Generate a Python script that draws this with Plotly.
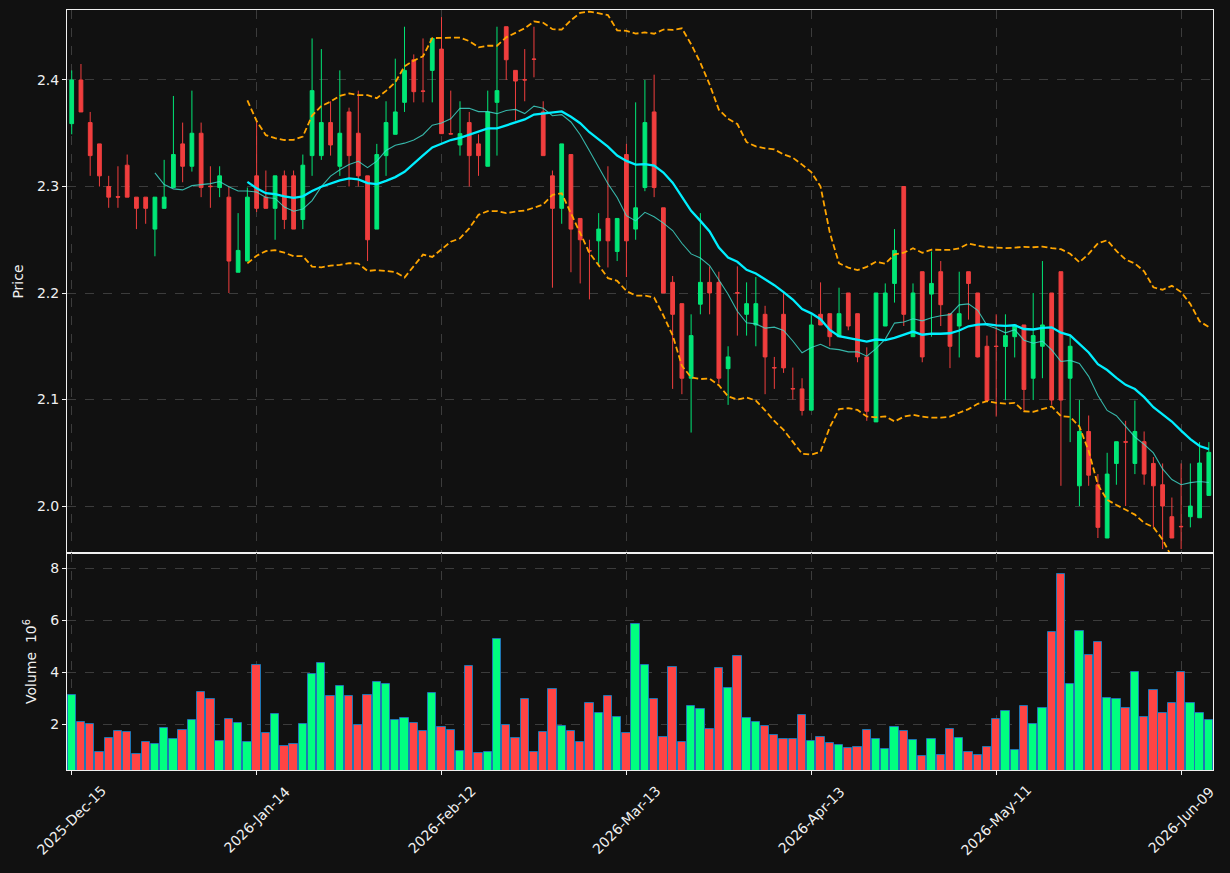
import pandas as pd
import plotly.graph_objects as go
from plotly.subplots import make_subplots

# ---------------- data ----------------
holidays = ["2025-12-25", "2026-01-01", "2026-01-19", "2026-02-16", "2026-04-03", "2026-05-25"]
dates = pd.bdate_range("2025-12-15", periods=124, freq="C", holidays=holidays)

open_ = [
    2.359, 2.400, 2.360, 2.340, 2.300, 2.2905, 2.320, 2.290, 2.290, 2.260,
    2.2795, 2.299, 2.340, 2.319, 2.350, 2.3003, 2.299, 2.290, 2.2195, 2.230,
    2.310, 2.290, 2.2795, 2.310, 2.310, 2.269, 2.329, 2.329, 2.360, 2.319,
    2.370, 2.350, 2.310, 2.260, 2.329, 2.349, 2.379, 2.419, 2.3897, 2.409,
    2.429, 2.3496, 2.339, 2.360, 2.340, 2.319, 2.379, 2.450, 2.409, 2.4003,
    2.4197, 2.370, 2.310, 2.2795, 2.330, 2.270, 2.2398, 2.249, 2.270, 2.239,
    2.330, 2.260, 2.299, 2.370, 2.280, 2.210, 2.190, 2.120, 2.1895, 2.210,
    2.210, 2.129, 2.2003, 2.180, 2.170, 2.180, 2.1300, 2.180, 2.1103, 2.110,
    2.090, 2.180, 2.1806, 2.159, 2.200, 2.1806, 2.140, 2.079, 2.169, 2.209,
    2.300, 2.159, 2.220, 2.199, 2.220, 2.1806, 2.169, 2.220, 2.200, 2.150,
    2.1501, 2.1498, 2.159, 2.170, 2.120, 2.150, 2.200, 2.220, 2.120, 2.019,
    2.070, 2.020, 1.970, 2.040, 2.0604, 2.040, 2.0604, 2.040, 2.020, 1.990,
    1.9809, 1.990, 1.989, 2.010,
]
high = [
    2.409, 2.415, 2.370, 2.340, 2.310, 2.319, 2.330, 2.290, 2.290, 2.290,
    2.325, 2.385, 2.360, 2.390, 2.360, 2.319, 2.319, 2.300, 2.275, 2.299,
    2.362, 2.315, 2.310, 2.315, 2.315, 2.330, 2.439, 2.429, 2.380, 2.409,
    2.374, 2.390, 2.310, 2.340, 2.380, 2.420, 2.450, 2.424, 2.439, 2.439,
    2.459, 2.390, 2.380, 2.370, 2.349, 2.390, 2.450, 2.450, 2.409, 2.429,
    2.450, 2.380, 2.315, 2.340, 2.330, 2.270, 2.250, 2.275, 2.319, 2.270,
    2.340, 2.379, 2.400, 2.405, 2.280, 2.216, 2.190, 2.180, 2.275, 2.225,
    2.220, 2.150, 2.225, 2.210, 2.215, 2.188, 2.140, 2.200, 2.130, 2.120,
    2.180, 2.210, 2.1806, 2.205, 2.200, 2.1806, 2.149, 2.200, 2.209, 2.260,
    2.300, 2.209, 2.220, 2.239, 2.230, 2.1806, 2.220, 2.220, 2.200, 2.160,
    2.180, 2.180, 2.170, 2.170, 2.200, 2.230, 2.200, 2.220, 2.160, 2.0995,
    2.085, 2.030, 2.050, 2.0604, 2.080, 2.099, 2.070, 2.046, 2.040, 2.008,
    2.040, 2.040, 2.060, 2.060,
]
low = [
    2.349, 2.370, 2.310, 2.300, 2.280, 2.280, 2.290, 2.260, 2.265, 2.2345,
    2.2795, 2.299, 2.304, 2.314, 2.290, 2.280, 2.290, 2.200, 2.2195, 2.230,
    2.276, 2.2795, 2.250, 2.260, 2.260, 2.260, 2.310, 2.325, 2.329, 2.310,
    2.300, 2.300, 2.230, 2.260, 2.310, 2.349, 2.370, 2.379, 2.379, 2.379,
    2.3496, 2.349, 2.329, 2.300, 2.310, 2.319, 2.329, 2.400, 2.362, 2.380,
    2.4025, 2.329, 2.205, 2.265, 2.2195, 2.209, 2.194, 2.227, 2.224, 2.230,
    2.215, 2.250, 2.2956, 2.290, 2.200, 2.110, 2.105, 2.069, 2.180, 2.180,
    2.115, 2.095, 2.160, 2.160, 2.150, 2.105, 2.110, 2.125, 2.100, 2.085,
    2.090, 2.170, 2.150, 2.159, 2.165, 2.135, 2.080, 2.079, 2.169, 2.191,
    2.169, 2.159, 2.135, 2.159, 2.169, 2.1295, 2.1395, 2.175, 2.1395, 2.0994,
    2.084, 2.0994, 2.1395, 2.0895, 2.0995, 2.120, 2.095, 2.019, 2.060, 2.000,
    2.019, 1.970, 1.970, 2.020, 2.000, 2.030, 2.020, 1.980, 1.9596, 1.970,
    1.9596, 1.980, 1.989, 2.0097,
]
close = [
    2.400, 2.370, 2.329, 2.310, 2.290, 2.2900, 2.290, 2.2795, 2.2795, 2.290,
    2.290, 2.330, 2.319, 2.350, 2.299, 2.2999, 2.310, 2.230, 2.240, 2.290,
    2.2795, 2.2795, 2.310, 2.269, 2.260, 2.320, 2.390, 2.360, 2.339, 2.350,
    2.329, 2.310, 2.250, 2.330, 2.360, 2.370, 2.409, 2.389, 2.3894, 2.439,
    2.3496, 2.3493, 2.3496, 2.329, 2.329, 2.370, 2.390, 2.419, 2.399, 2.4000,
    2.4194, 2.329, 2.2795, 2.340, 2.260, 2.250, 2.2395, 2.260, 2.249, 2.270,
    2.249, 2.280, 2.360, 2.299, 2.200, 2.180, 2.120, 2.160, 2.210, 2.200,
    2.120, 2.140, 2.2000, 2.190, 2.190, 2.140, 2.1297, 2.1297, 2.1100, 2.0897,
    2.170, 2.170, 2.159, 2.1806, 2.169, 2.140, 2.089, 2.200, 2.200, 2.240,
    2.180, 2.200, 2.140, 2.209, 2.189, 2.150, 2.1806, 2.209, 2.140, 2.099,
    2.1498, 2.160, 2.170, 2.1095, 2.160, 2.170, 2.0995, 2.0995, 2.150, 2.070,
    2.029, 1.980, 2.030, 2.0604, 2.0600, 2.070, 2.030, 2.019, 2.000, 1.970,
    1.9806, 2.000, 2.0404, 2.0504,
]
# volume in millions
volume_m = [
    3.14, 2.10, 2.02, 0.92, 1.46, 1.75, 1.69, 0.85, 1.33, 1.25,
    1.87, 1.45, 1.79, 2.18, 3.25, 2.98, 1.37, 2.22, 2.06, 1.33,
    4.29, 1.68, 2.41, 1.15, 1.25, 2.02, 3.95, 4.37, 3.10, 3.48,
    3.10, 1.98, 3.14, 3.64, 3.56, 2.18, 2.25, 2.06, 1.75, 3.22,
    1.91, 1.79, 0.98, 4.25, 0.88, 0.92, 5.29, 1.96, 1.46, 2.98,
    0.92, 1.72, 3.37, 1.95, 1.75, 1.31, 2.83, 2.45, 3.10, 2.29,
    1.68, 5.87, 4.29, 2.98, 1.52, 4.22, 1.33, 2.72, 2.60, 1.83,
    4.18, 3.41, 4.64, 2.25, 2.10, 1.95, 1.60, 1.45, 1.45, 2.37,
    1.37, 1.52, 1.29, 1.22, 1.08, 1.12, 1.79, 1.45, 1.06, 1.91,
    1.75, 1.41, 0.79, 1.45, 0.83, 1.83, 1.48, 0.95, 0.83, 1.14,
    2.22, 2.52, 1.02, 2.72, 2.02, 2.64, 5.56, 7.79, 3.56, 5.60,
    4.68, 5.18, 3.02, 2.98, 2.64, 4.02, 2.29, 3.33, 2.45, 2.83,
    4.02, 2.83, 2.45, 2.18,
]
tick_every = 20
date_fmt = "%Y-%b-%d"

# ---------------- derived ----------------
idx = list(range(len(close)))
cs = pd.Series(close)
sma10 = cs.rolling(10).mean()
sma20 = cs.rolling(20).mean()
std20 = cs.rolling(20).std(ddof=0)
bb_up = sma20 + 2 * std20
bb_lo = sma20 - 2 * std20

UP_C, DN_C = "#00e676", "#f03e3e"
VUP_C, VDN_C = "#00ff80", "#ff4444"
vol_colors = [VUP_C if c >= o else VDN_C for o, c in zip(open_, close)]
tick_vals = idx[::tick_every]
tick_text = [dates[i].strftime(date_fmt) for i in tick_vals]

BG = "#111111"
GRID = "#3c3c3c"
FG = "#f0f0f0"
FONT = "DejaVu Sans"

fig = make_subplots(rows=2, cols=1, shared_xaxes=True, vertical_spacing=0,
                    row_heights=[0.7145, 0.2855])

fig.add_trace(go.Candlestick(
    x=idx, open=open_, high=high, low=low, close=close,
    increasing=dict(fillcolor=UP_C, line=dict(color=UP_C, width=1)),
    decreasing=dict(fillcolor=DN_C, line=dict(color=DN_C, width=1)),
    whiskerwidth=0, showlegend=False), row=1, col=1)

fig.add_trace(go.Scatter(x=idx, y=sma10, mode="lines",
                         line=dict(color="rgba(64,224,208,0.8)", width=1.1),
                         showlegend=False), row=1, col=1)
fig.add_trace(go.Scatter(x=idx, y=sma20, mode="lines",
                         line=dict(color="#00efff", width=2.3),
                         showlegend=False), row=1, col=1)
for band in (bb_up, bb_lo):
    fig.add_trace(go.Scatter(x=idx, y=band, mode="lines",
                             line=dict(color="#ffa500", width=1.8, dash="6px,3px"),
                             showlegend=False), row=1, col=1)

fig.add_trace(go.Bar(x=idx, y=volume_m, width=0.9,
                     marker=dict(color=vol_colors, line=dict(color="#1f77b4", width=1)),
                     showlegend=False), row=2, col=1)

axis_common = dict(showline=True, linecolor=FG, linewidth=1, mirror=True,
                   gridcolor=GRID, griddash="dash", gridwidth=1, zeroline=False,
                   tickfont=dict(family=FONT, size=14, color=FG),
                   ticks="outside", ticklen=4, tickcolor=FG)

fig.update_xaxes(**axis_common, range=[-0.51, 123.45], tickvals=tick_vals,
                 ticktext=tick_text, rangeslider_visible=False)
fig.update_xaxes(ticks="", showticklabels=False, row=1, col=1)
fig.update_xaxes(showticklabels=False, row=2, col=1)
fig.update_yaxes(**axis_common)
fig.update_yaxes(range=[1.9559, 2.4657], tickvals=[2.0, 2.1, 2.2, 2.3, 2.4],
                 tickformat=".1f",
                 title=dict(text="Price", font=dict(family=FONT, size=14, color=FG),
                            standoff=10), row=1, col=1)
fig.update_yaxes(range=[0.243, 8.59], tickvals=[2, 4, 6, 8],
                 title=dict(text="Volume  10<sup>6</sup>",
                            font=dict(family=FONT, size=14, color=FG),
                            standoff=10), row=2, col=1)

# rotated date labels, centred under their ticks (matplotlib-style)
for tv, tt in zip(tick_vals, tick_text):
    fig.add_annotation(x=tv, xref="x2", y=0, yref="paper", text=tt,
                       textangle=-45, showarrow=False, xanchor="center",
                       yanchor="middle", yshift=-50,
                       font=dict(family=FONT, size=14, color=FG))

fig.update_layout(width=1230, height=873, paper_bgcolor=BG, plot_bgcolor=BG,
                  margin=dict(l=67, r=17, t=10, b=103), boxgap=0.42,
                  bargap=0, font=dict(family=FONT, color=FG))

fig.write_html("out.html")
